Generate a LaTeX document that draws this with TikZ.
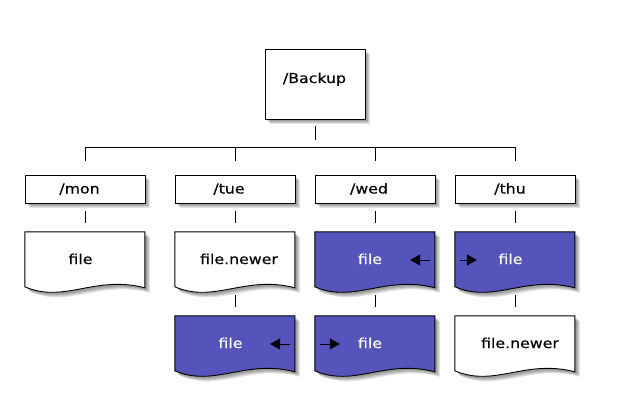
\documentclass[tikz,border=0pt]{standalone}
\usepackage{fontspec}
\newfontfamily\dvs[FakeStretch=1.15,FakeBold=0.4]{DejaVu Sans}
\usetikzlibrary{arrows.meta}
\definecolor{fblue}{RGB}{84,84,186}
\pgfdeclarelayer{paper}
\pgfdeclarelayer{bg}
\pgfsetlayers{paper,bg,main}
\tikzset{
  rbox/.style={draw=black, line width=0.9pt, fill=white, inner sep=0pt},
  daybox/.style={rbox, minimum width=120pt, minimum height=28pt},
  topbox/.style={rbox, minimum width=100pt, minimum height=70pt},
  fslot/.style={inner sep=0pt, minimum width=120pt, minimum height=56pt},
  lbl/.style={font=\dvs\fontsize{13.7}{16}\selectfont, anchor=base, inner sep=0pt},
  wlbl/.style={lbl, text=white},
  conn/.style={line width=0.9pt, draw=black},
  arr/.style={line width=0.9pt, draw=black, -{Triangle[length=10pt,width=11pt]}},
  shad/.style={fill=black, opacity=0.11}
}
\newcommand\docpath{(0,0) -- (120,0) -- (120,56) .. controls (70,43) and (40,72) .. (0,55) -- cycle}
\newcommand\docshape[2]{%
  \begin{pgfonlayer}{bg}
    \foreach \s in {2,3,4,5}{\fill[shad,shift={(#1.north west)},shift={(\s,\s)}] \docpath;}
  \end{pgfonlayer}
  \filldraw[fill=#2,line width=0.9pt,shift={(#1.north west)}] \docpath;}
\newcommand\rectshadow[1]{%
  \begin{pgfonlayer}{bg}
    \foreach \s in {2,3,4,5}{\fill[shad] ([shift={(\s,\s)}]#1.north west) rectangle ([shift={(\s,\s)}]#1.south east);}
  \end{pgfonlayer}}
\begin{document}
\begin{tikzpicture}[x=1pt,y=-1pt]
\begin{pgfonlayer}{paper}
\fill[white] (0,0) rectangle (620,406);
\end{pgfonlayer}
\useasboundingbox (0,0) rectangle (620,406);
% top box
\node[topbox] (B) at (315,84) {};
\rectshadow{B}
\node[lbl] (tB) at (314.5,83) {/Backup};
% day boxes
\node[daybox] (mon) at (85,189) {};
\node[daybox] (tue) at (235,189) {};
\node[daybox] (wed) at (375,189) {};
\node[daybox] (thu) at (515,189) {};
\foreach \d in {mon,tue,wed,thu}{\rectshadow{\d}}
\node[lbl] (tmon) at (79.5,193.5) {/mon};
\node[lbl] (ttue) at (229,193.5) {/tue};
\node[lbl] (twed) at (369,193.5) {/wed};
\node[lbl] (tthu) at (510,193.5) {/thu};
% file slots
\node[fslot] (mf) at (85,260) {};
\node[fslot] (tf) at (235,260) {};
\node[fslot] (wf) at (375,260) {};
\node[fslot] (hf) at (515,260) {};
\node[fslot] (tf2) at (235,344) {};
\node[fslot] (wf2) at (375,344) {};
\node[fslot] (hf2) at (515,344) {};
\docshape{mf}{white}
\docshape{tf}{white}
\docshape{wf}{fblue}
\docshape{hf}{fblue}
\docshape{tf2}{fblue}
\docshape{wf2}{fblue}
\docshape{hf2}{white}
\node[lbl] (tmf) at (80.5,264) {file};
\node[lbl] (ttf) at (239,264) {file.newer};
\node[wlbl] (twf) at (370,264) {file};
\node[wlbl] (thf) at (510.5,264) {file};
\node[wlbl] (ttf2) at (230.5,348) {file};
\node[wlbl] (twf2) at (370,348) {file};
\node[lbl] (thf2) at (520,348) {file.newer};
% connectors
\draw[conn] ([yshift=-7pt]B.south) -- ([yshift=-21pt]B.south);
\coordinate (hb) at (315,147);
\draw[conn] (mon.north |- hb) -- (thu.north |- hb);
\foreach \d in {mon,tue,wed,thu}{\draw[conn] (\d.north |- hb) -- ([yshift=14pt]\d.north);}
\draw[conn] ([yshift=-8pt]mon.south) -- ([yshift=9pt]mf.north);
\draw[conn] ([yshift=-8pt]tue.south) -- ([yshift=9pt]tf.north);
\draw[conn] ([yshift=-8pt]wed.south) -- ([yshift=9pt]wf.north);
\draw[conn] ([yshift=-8pt]thu.south) -- ([yshift=9pt]hf.north);
\draw[conn] ([yshift=-7pt]tf.south) -- ([yshift=9pt]tf2.north);
\draw[conn] ([yshift=-7pt]wf.south) -- ([yshift=9pt]wf2.north);
\draw[conn] ([yshift=-7pt]hf.south) -- ([yshift=9pt]hf2.north);
% arrows
\draw[arr] ([xshift=-5pt]wf.east) -- ([xshift=-25pt]wf.east);
\draw[arr] ([xshift=5pt]hf.west) -- ([xshift=22pt]hf.west);
\draw[arr] ([xshift=-5pt]tf2.east) -- ([xshift=-25pt]tf2.east);
\draw[arr] ([xshift=5pt]wf2.west) -- ([xshift=25pt]wf2.west);
\end{tikzpicture}
\end{document}
